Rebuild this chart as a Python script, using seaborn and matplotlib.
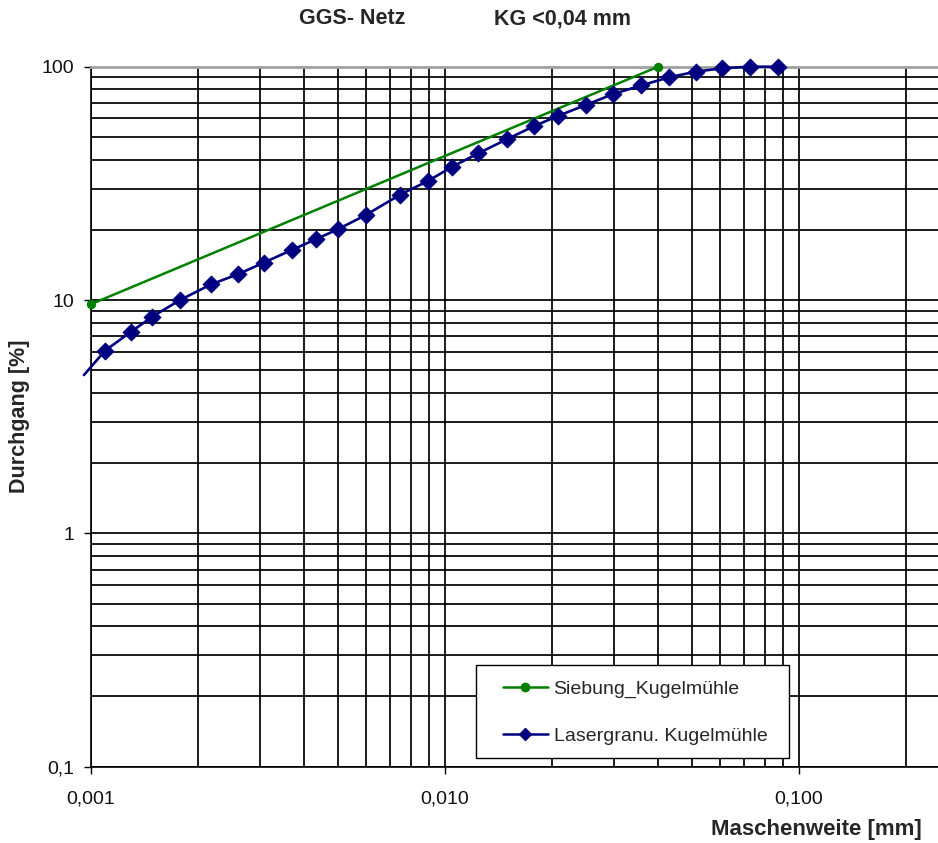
import numpy as np
import pandas as pd
import matplotlib.pyplot as plt
import seaborn as sns
from matplotlib.lines import Line2D
from matplotlib.patches import Rectangle
from matplotlib.ticker import LogLocator, NullFormatter

plt.switch_backend('agg')

# ==========================
# Data
# ==========================
TITLE_LEFT = "GGS- Netz"
TITLE_RIGHT = "KG <0,04 mm"
X_LABEL = "Maschenweite [mm]"
Y_LABEL = "Durchgang [%]"

# Siebung (sieve) - two points
sieb_x = [0.001, 0.040]
sieb_y = [9.6, 100.0]

# Laser granulometry; the first vertex lies just left of the plot area
laser_x = [0.000955, 0.001095, 0.001297, 0.001490, 0.001784, 0.002183, 0.002597,
           0.003082, 0.003689, 0.004312, 0.004996, 0.005970, 0.007487, 0.008972,
           0.01049, 0.01242, 0.01494, 0.01788, 0.02082, 0.02497, 0.02988,
           0.03579, 0.04298, 0.05108, 0.06047, 0.07271, 0.08708]
laser_y = [4.77, 6.06, 7.31, 8.48, 10.0, 11.67, 12.89,
           14.48, 16.38, 18.20, 20.15, 23.13, 28.33, 32.45,
           37.27, 42.54, 48.84, 55.70, 61.47, 68.52, 76.38,
           83.08, 90.1, 95.2, 98.4, 100.0, 100.0]

x_ticks = [0.001, 0.01, 0.1]
x_tick_labels = ["0,001", "0,010", "0,100"]
y_ticks = [0.1, 1, 10, 100]
y_tick_labels = ["0,1", "1", "10", "100"]

series_labels = ["Siebung_Kugelmühle", "Lasergranu. Kugelmühle"]

GREEN = "#008000"
NAVY = "#000080"

# ==========================
# Plot
# ==========================
sns.set_style("white")
plt.rcParams['font.family'] = ['Liberation Sans', 'DejaVu Sans']

W, H = 938, 843
fig = plt.figure(figsize=(W / 100, H / 100), dpi=100)
ax = fig.add_axes([91 / W, (H - 766.7) / H, 1 - 91 / W, 700 / H])
ax.set_xscale('log')
ax.set_yscale('log')

df_laser = pd.DataFrame({"x": laser_x, "y": laser_y})
df_sieb = pd.DataFrame({"x": sieb_x, "y": sieb_y})
in_range = df_laser[df_laser["x"] >= 0.001]

sns.lineplot(data=df_sieb, x="x", y="y", ax=ax, color=GREEN, lw=1.8,
             marker="o", markersize=6, markeredgecolor=GREEN,
             clip_on=False, zorder=3, sort=False)
sns.lineplot(data=df_laser, x="x", y="y", ax=ax, color=NAVY, lw=1.9,
             clip_on=False, zorder=3, sort=False)
sns.scatterplot(data=in_range, x="x", y="y", ax=ax, color=NAVY, marker="D",
                s=72, edgecolor=NAVY, linewidth=0.8, clip_on=False, zorder=3.5)

ax.set_xlim(0.001, 0.247)
ax.set_ylim(0.1, 100)

ax.set_xticks(x_ticks, labels=x_tick_labels)
ax.set_yticks(y_ticks, labels=y_tick_labels)
ax.xaxis.set_minor_locator(LogLocator(base=10, subs=np.arange(2, 10)))
ax.yaxis.set_minor_locator(LogLocator(base=10, subs=np.arange(2, 10)))
ax.xaxis.set_minor_formatter(NullFormatter())
ax.yaxis.set_minor_formatter(NullFormatter())

ax.grid(True, which='both', color='#000000', lw=1.25)
ax.set_axisbelow(True)

ax.tick_params(which='major', bottom=True, left=True, direction='out',
               length=5, width=1, color='black', labelsize=14,
               labelcolor='#111111')
ax.tick_params(axis='x', which='major', pad=12)
ax.tick_params(axis='y', which='major', pad=7)
ax.tick_params(which='minor', length=0)

for side in ['left', 'bottom']:
    ax.spines[side].set_color('black')
    ax.spines[side].set_linewidth(1.2)
ax.spines['top'].set_color('#a0a0a0')
ax.spines['top'].set_linewidth(2.0)
ax.spines['right'].set_visible(False)

ax.set_xlabel("")
ax.set_ylabel("")

# titles and axis labels
fig.text(352 / W, 1 - 19 / H, TITLE_LEFT, ha='center', va='center',
         fontsize=15.5, fontweight='bold')
fig.text(562 / W, 1 - 19 / H, TITLE_RIGHT, ha='center', va='center',
         fontsize=15.5, fontweight='bold')
fig.text(20 / W, 1 - 416.7 / H, Y_LABEL, rotation=90, ha='center',
         va='center', fontsize=15.5, fontweight='bold')
fig.text(922 / W, 1 - 829 / H, X_LABEL, ha='right', va='center',
         fontsize=16, fontweight='bold')

# legend box
box = Rectangle((476 / W, 1 - 758 / H), (789 - 476) / W, 93 / H,
                transform=fig.transFigure, facecolor='white',
                edgecolor='black', lw=1.0, zorder=4, clip_on=False)
ax.add_patch(box)

handles = [
    Line2D([], [], color=GREEN, lw=1.8, marker='o', markersize=6),
    Line2D([], [], color=NAVY, lw=1.8, marker='D', markersize=6),
]
leg = ax.legend(handles, series_labels, loc='upper left',
                bbox_to_anchor=(503 / W, 1 - 680 / H),
                bbox_transform=fig.transFigure, frameon=False, fontsize=14,
                handlelength=2.3, handletextpad=0.3, labelspacing=1.5,
                borderpad=0, borderaxespad=0)
leg.set_zorder(5)

fig.savefig("out.png", dpi=100)
plt.close(fig)
